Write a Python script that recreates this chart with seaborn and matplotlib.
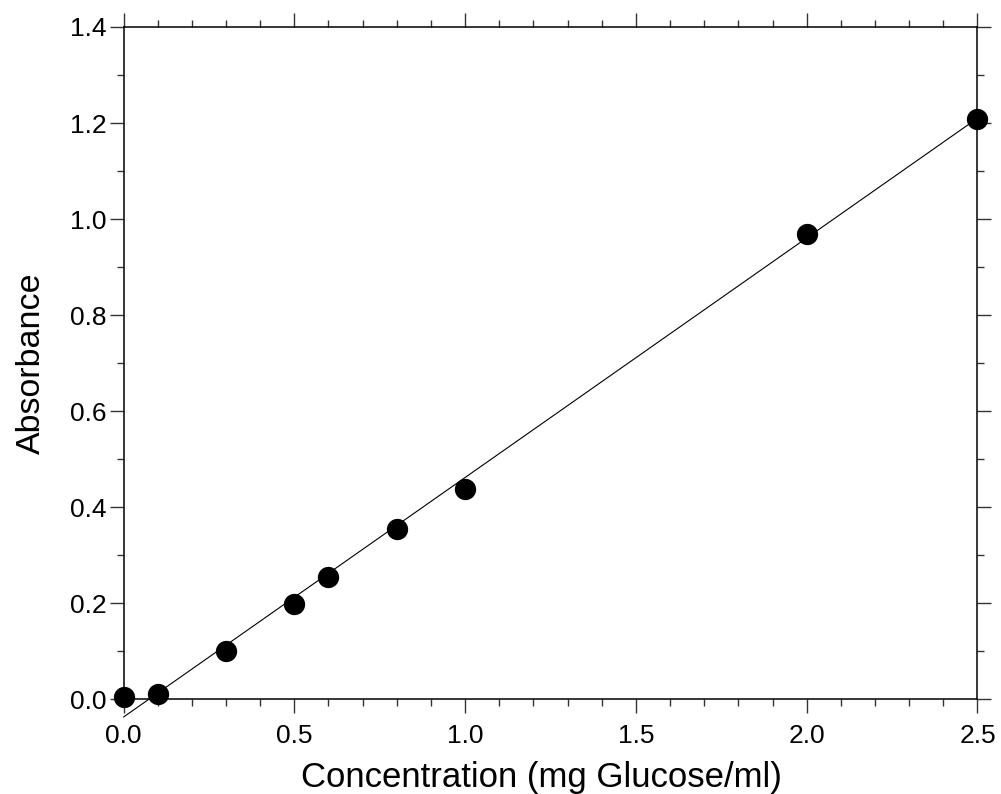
import numpy as np
import pandas as pd
import matplotlib
matplotlib.use("Agg")
import matplotlib.pyplot as plt
from matplotlib.ticker import MultipleLocator, FormatStrFormatter
import seaborn as sns

# glucose standard curve
conc = [0.0, 0.1, 0.3, 0.5, 0.6, 0.8, 1.0, 2.0, 2.5]
absorbance = [0.005, 0.010, 0.100, 0.198, 0.254, 0.354, 0.437, 0.969, 1.208]

# regression line end points
fit_x = [0.0, 2.5]
fit_y = [-0.0375, 1.21]

sns.set_style("ticks")
plt.rcParams["font.family"] = ["Liberation Sans", "DejaVu Sans"]
plt.rcParams["text.color"] = "black"
plt.rcParams["axes.labelcolor"] = "black"
plt.rcParams["xtick.labelcolor"] = "black"
plt.rcParams["ytick.labelcolor"] = "black"

pts = pd.DataFrame({"conc": conc, "abs": absorbance})
fit = pd.DataFrame({"conc": fit_x, "abs": fit_y})

fig = plt.figure(figsize=(10.01, 7.94), dpi=100)
ax = fig.add_axes([0.1234, 0.1196, 0.8531, 0.8464])

sns.lineplot(data=fit, x="conc", y="abs", color="black", linewidth=0.8,
             ax=ax, clip_on=False)
sns.scatterplot(data=pts, x="conc", y="abs", color="black", s=235,
                edgecolor="black", linewidth=0, ax=ax, clip_on=False, zorder=5)

ax.set_xlim(0, 2.5)
ax.set_ylim(0, 1.4)
ax.xaxis.set_major_locator(MultipleLocator(0.5))
ax.xaxis.set_minor_locator(MultipleLocator(0.1))
ax.yaxis.set_major_locator(MultipleLocator(0.2))
ax.yaxis.set_minor_locator(MultipleLocator(0.1))
ax.xaxis.set_major_formatter(FormatStrFormatter("%.1f"))
ax.yaxis.set_major_formatter(FormatStrFormatter("%.1f"))

for sp in ax.spines.values():
    sp.set_visible(True)
    sp.set_linewidth(1.1)
    sp.set_color("black")

ax.tick_params(which="both", direction="out", top=True, right=True,
               labeltop=False, labelright=False, color="#333333", width=1.0)
ax.tick_params(which="major", length=10, labelsize=19)
ax.tick_params(axis="x", which="major", pad=8)
ax.tick_params(axis="y", which="major", pad=2)
ax.tick_params(which="minor", length=5)

ax.set_xlabel("Concentration (mg Glucose/ml)", fontsize=25, labelpad=9)
ax.set_ylabel("Absorbance", fontsize=24.5, labelpad=17)
# the original label sits a little left of the axes centre
ax.xaxis.label.set_x(0.489)

fig.savefig("out.png", dpi=100)
